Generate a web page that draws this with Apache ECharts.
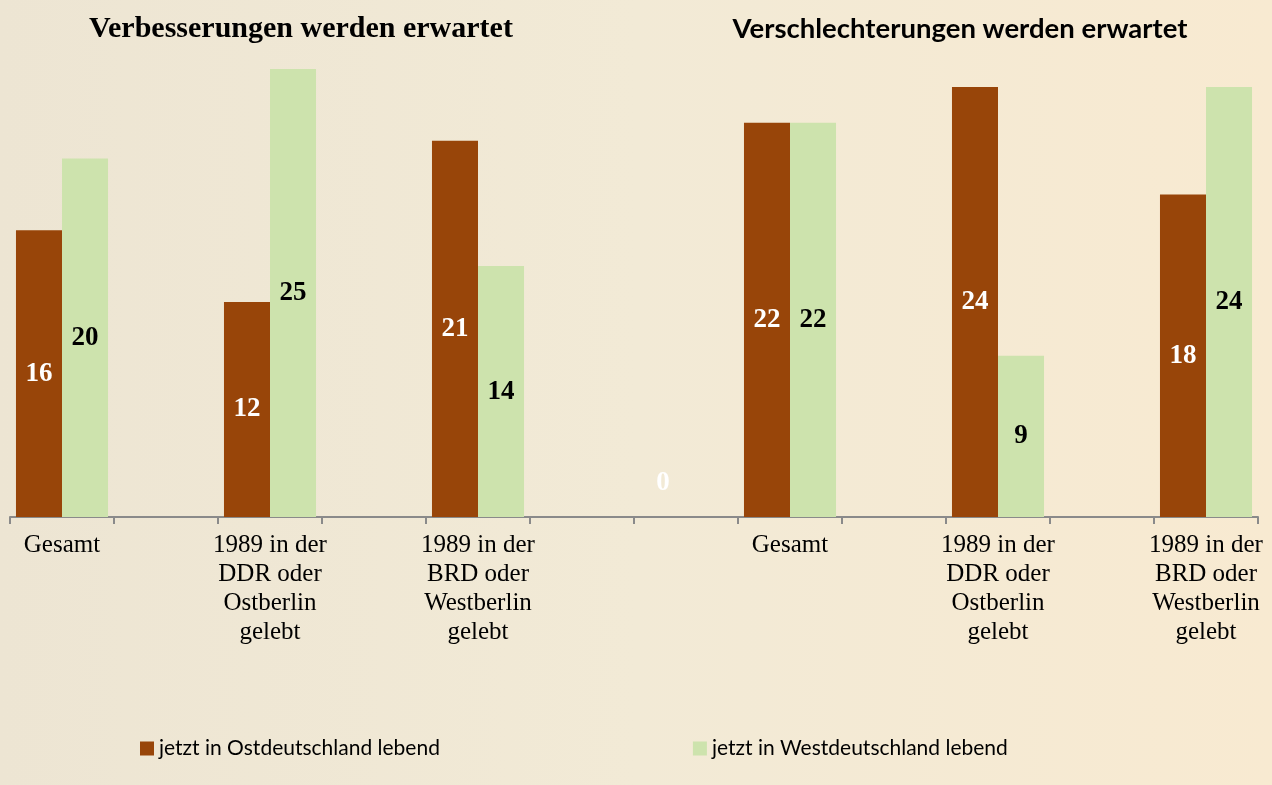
<!DOCTYPE html>
<html>
<head>
<meta charset="utf-8">
<title>Verbesserungen / Verschlechterungen</title>
<script src="https://cdn.jsdelivr.net/npm/echarts@6/dist/echarts.min.js"></script>
<style>
  html, body { margin: 0; padding: 0; }
  #main { width: 1272px; height: 785px; }
</style>
</head>
<body>
<div id="main"></div>
<script>
// Kategorien (leere Einträge = Abstand zwischen den Gruppen)
var categories = [
    'Gesamt', '', '1989 in der\nDDR oder\nOstberlin\ngelebt', '', '1989 in der\nBRD oder\nWestberlin\ngelebt', '',
    '', 'Gesamt', '', '1989 in der\nDDR oder\nOstberlin\ngelebt', '', '1989 in der\nBRD oder\nWestberlin\ngelebt'
];
var seriesNames = ['jetzt in Ostdeutschland lebend', 'jetzt in Westdeutschland lebend'];
var ostValues = [16, null, 12, null, 21, null, 0, 22, null, 24, null, 18];
var westValues = [20, null, 25, null, 14, null, null, 22, null, 9, null, 24];
var titles = ['Verbesserungen werden erwartet', 'Verschlechterungen werden erwartet'];

var myChart = echarts.init(document.getElementById('main'));

// Nullwert etwas über der Achse beschriften
var ostData = ostValues.map(function (v) {
    if (v === 0) {
        return { value: v, label: { position: 'insideBottom', distance: 20 } };
    }
    return v;
});

var option = {
    backgroundColor: {
        type: 'linear', x: 0, y: 0, x2: 1, y2: 0,
        colorStops: [
            { offset: 0, color: '#ede5d3' },
            { offset: 0.5, color: '#f2ead6' },
            { offset: 1, color: '#f8ead1' }
        ]
    },
    title: [
        {
            text: titles[0],
            left: 296,
            top: 9,
            textAlign: 'center',
            textStyle: { fontFamily: 'Liberation Serif', fontWeight: 'bold', fontSize: 30, color: '#000' }
        },
        {
            text: titles[1],
            left: 955,
            top: 10,
            textAlign: 'center',
            textStyle: { fontFamily: 'Lato', fontWeight: 'bold', fontSize: 27.5, color: '#000' }
        }
    ],
    legend: {
        data: seriesNames,
        left: 135,
        top: 733,
        itemWidth: 14,
        itemHeight: 14,
        itemGap: 253,
        icon: 'rect',
        textStyle: { fontFamily: 'Lato', fontSize: 21, color: '#000' }
    },
    grid: {
        left: 10,
        right: 14,
        top: 69,
        bottom: 268
    },
    xAxis: {
        type: 'category',
        data: categories,
        axisLine: { lineStyle: { color: '#8a8a8a', width: 2 } },
        axisTick: { show: true, interval: 0, length: 7, lineStyle: { color: '#8a8a8a', width: 2 } },
        axisLabel: {
            interval: 0,
            margin: 14,
            fontFamily: 'Liberation Serif',
            fontSize: 25,
            lineHeight: 29,
            color: '#000'
        }
    },
    yAxis: {
        type: 'value',
        min: 0,
        max: 25,
        show: false,
        splitLine: { show: false }
    },
    series: [
        {
            name: seriesNames[0],
            type: 'bar',
            data: ostData,
            barGap: '0%',
            barCategoryGap: '11.5%',
            itemStyle: { color: '#984509' },
            label: {
                show: true,
                position: 'inside',
                fontFamily: 'Liberation Serif',
                fontWeight: 'bold',
                fontSize: 27,
                color: '#fff'
            }
        },
        {
            name: seriesNames[1],
            type: 'bar',
            data: westValues,
            barGap: '0%',
            barCategoryGap: '11.5%',
            itemStyle: { color: '#cde3ad' },
            label: {
                show: true,
                position: 'inside',
                fontFamily: 'Liberation Serif',
                fontWeight: 'bold',
                fontSize: 27,
                color: '#000'
            }
        }
    ]
};

myChart.setOption(option);
</script>
</body>
</html>
